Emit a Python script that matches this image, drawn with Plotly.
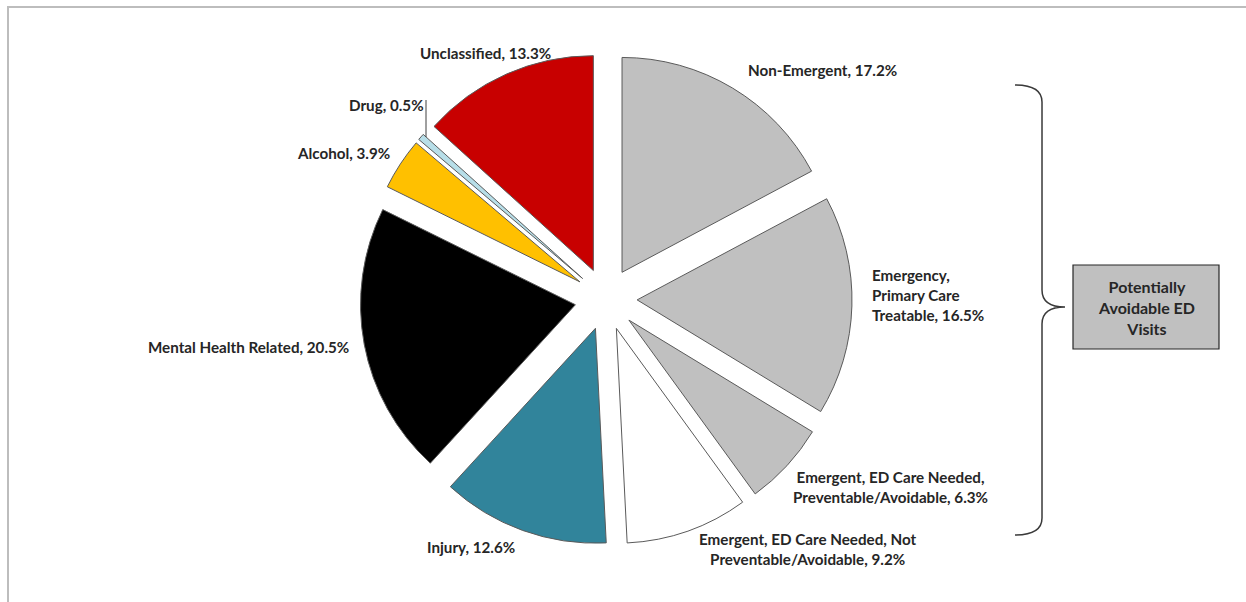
import plotly.graph_objects as go

# ---- data ----
categories = [
    "Non-Emergent",
    "Emergency, Primary Care Treatable",
    "Emergent, ED Care Needed, Preventable/Avoidable",
    "Emergent, ED Care Needed, Not Preventable/Avoidable",
    "Injury",
    "Mental Health Related",
    "Alcohol",
    "Drug",
    "Unclassified",
]
values = [17.2, 16.5, 6.3, 9.2, 12.6, 20.5, 3.9, 0.5, 13.3]
label_texts = [
    "Non-Emergent, 17.2%",
    "Emergency,<br>Primary Care<br>Treatable, 16.5%",
    "Emergent, ED Care Needed,<br>Preventable/Avoidable, 6.3%",
    "Emergent, ED Care Needed, Not<br>Preventable/Avoidable, 9.2%",
    "Injury, 12.6%",
    "Mental Health Related, 20.5%",
    "Alcohol, 3.9%",
    "Drug, 0.5%",
    "Unclassified, 13.3%",
]
colors = ["#C0C0C0", "#C0C0C0", "#C0C0C0", "#FFFFFF", "#31849B",
          "#000000", "#FFC000", "#B7DEE8", "#C80000"]
box_text = "Potentially<br>Avoidable ED<br>Visits"

# ---- layout helpers (pixel positions) ----
W, H = 1246, 602
def px(x, y):
    return x / W, 1 - y / H

# label anchor positions (pixels) and alignment
label_pos = [
    (822, 70, "center"),
    (870, 295, "left"),
    (890, 487, "center"),
    (808, 549, "center"),
    (471, 547, "center"),
    (248, 347, "center"),
    (343, 153, "center"),
    (386, 105, "center"),
    (485, 53, "center"),
]

cx, cy, R = 606, 299, 246
pull = 0.145
x0, y0 = px(cx - R, cy + R)
x1, y1 = px(cx + R, cy - R)

fig = go.Figure(go.Pie(
    labels=categories,
    values=values,
    sort=False,
    direction="clockwise",
    rotation=0,
    pull=[pull] * len(values),
    marker=dict(colors=colors, line=dict(color="#5A5A5A", width=1)),
    textinfo="none",
    hoverinfo="label+percent",
    showlegend=False,
    domain=dict(x=[x0, x1], y=[y0, y1]),
))

FONT = "Lato"
def bold(t):
    return "<br>".join(f"<b>{s}</b>" for s in t.split("<br>"))

annotations = []
for txt, (lx, ly, al) in zip(label_texts, label_pos):
    ax, ay = px(lx, ly)
    annotations.append(dict(
        x=ax, y=ay, xref="paper", yref="paper", text=bold(txt),
        showarrow=False,
        xanchor="left" if al == "left" else "center", yanchor="middle",
        align=al, font=dict(family=FONT, size=15.2, color="#262626"),
    ))

bx, by = px(1146, 307)
annotations.append(dict(
    x=bx, y=by, xref="paper", yref="paper",
    text=bold(box_text), showarrow=False,
    xanchor="center", yanchor="middle", align="center",
    font=dict(family=FONT, size=16, color="#262626"),
))

shapes = [
    # outer frame
    dict(type="rect", xref="paper", yref="paper",
         x0=8 / W, y0=-0.05, x1=1.05, y1=1 - 7 / H,
         line=dict(color="#BDBDBD", width=2), fillcolor="rgba(0,0,0,0)", layer="below"),
    # drug leader line
    dict(type="line", xref="paper", yref="paper",
         x0=426 / W, y0=1 - 100 / H, x1=426 / W, y1=1 - 137 / H,
         line=dict(color="#404040", width=1)),
    # callout box
    dict(type="rect", xref="paper", yref="paper",
         x0=1073 / W, y0=1 - 349 / H, x1=1219 / W, y1=1 - 265 / H,
         line=dict(color="#262626", width=1.2), fillcolor="#C0C0C0"),
]

# curly brace (pixel path converted to paper coords)
def P(x, y):
    a, b = px(x, y)
    return f"{a:.5f},{b:.5f}"

brace = (
    f"M {P(1015, 85)} "
    f"C {P(1033, 85)} {P(1042, 90)} {P(1042, 102)} "
    f"L {P(1042, 290)} "
    f"C {P(1042, 302)} {P(1050, 307)} {P(1065, 307)} "
    f"C {P(1050, 307)} {P(1042, 312)} {P(1042, 324)} "
    f"L {P(1042, 518)} "
    f"C {P(1042, 530)} {P(1033, 535)} {P(1015, 535)}"
)
shapes.append(dict(type="path", xref="paper", yref="paper", path=brace,
                   line=dict(color="#3A3A3A", width=1.5)))

fig.update_layout(
    width=W, height=H,
    margin=dict(l=0, r=0, t=0, b=0),
    paper_bgcolor="white", plot_bgcolor="white",
    annotations=annotations, shapes=shapes,
)

fig.write_html("out.html")
